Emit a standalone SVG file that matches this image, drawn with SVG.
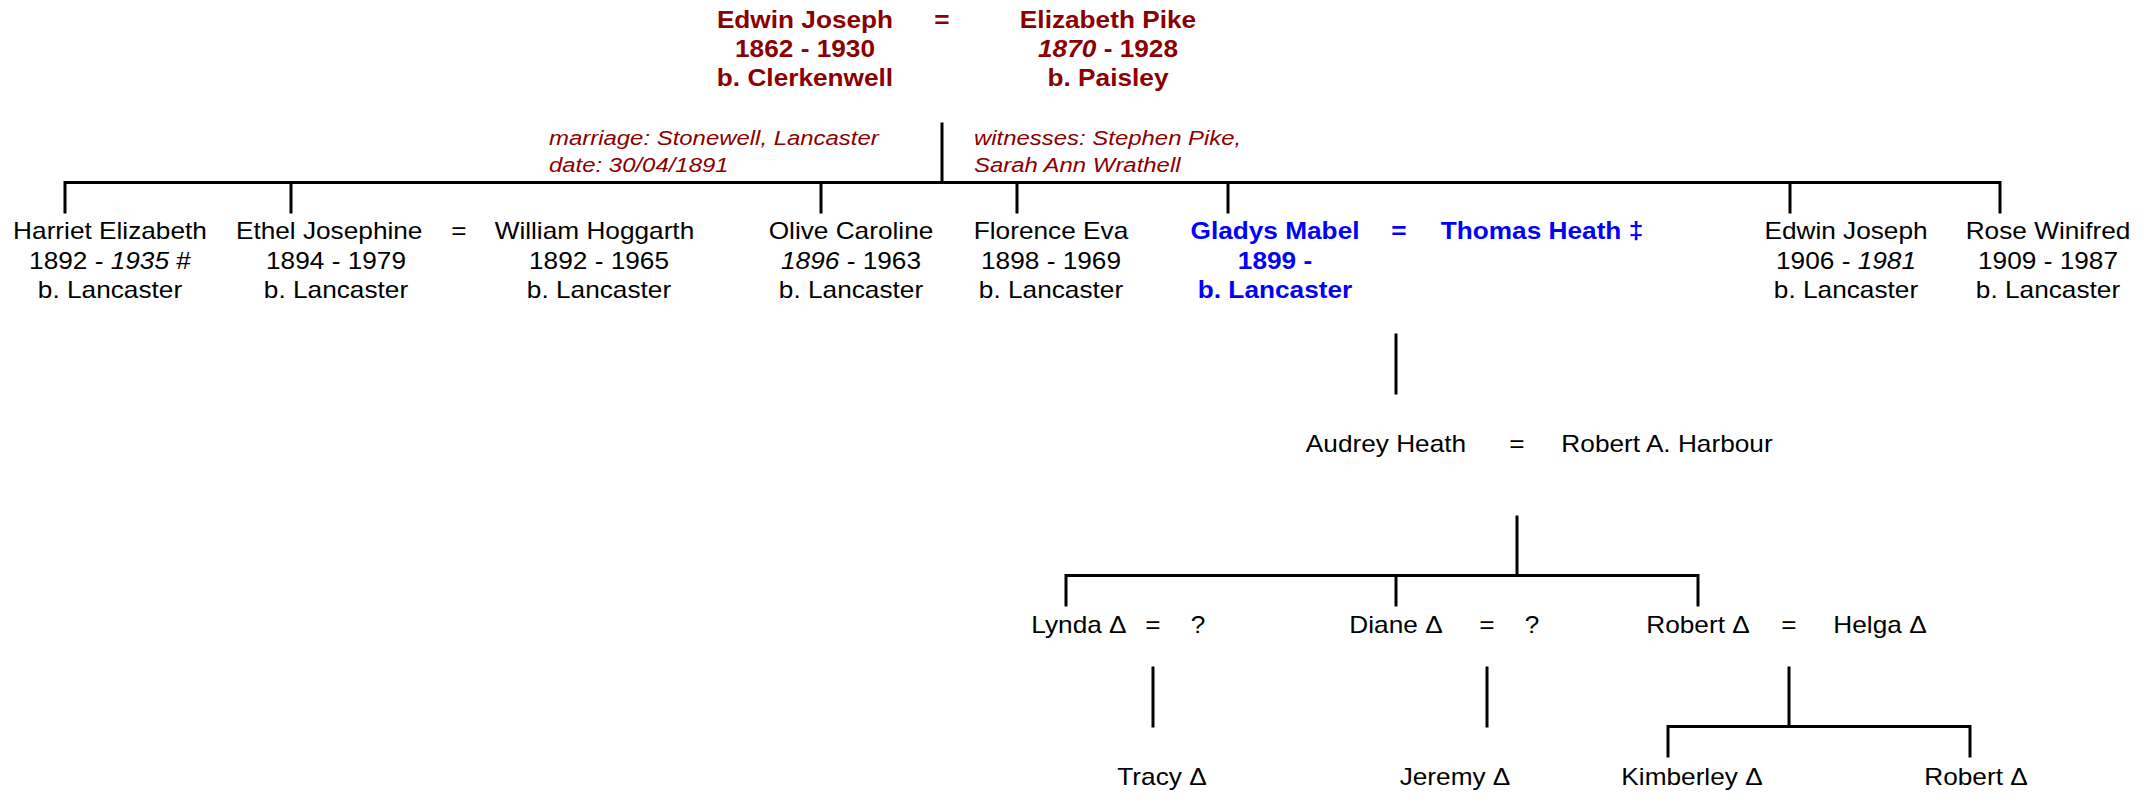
<svg xmlns="http://www.w3.org/2000/svg" width="2156" height="811" viewBox="0 0 2156 811">
<style>
text{font-family:"Liberation Sans",Arial,Helvetica,sans-serif;font-size:23px;text-anchor:middle;fill:#000}
.b{font-weight:bold}
.red{fill:#8b0000}
.blue{fill:#0000ff}
.note{font-size:21px;font-style:italic;text-anchor:start;fill:#8b0000}
.i{font-style:italic}
.ln{stroke:#000;stroke-width:3;fill:none;stroke-linecap:square}
</style>
<rect width="2156" height="811" fill="#fff"/>
<g id="connectors">
<path class="ln" d="M942 124V182"/>
<path class="ln" d="M65 212V182.5H2000V212"/>
<path class="ln" d="M291 183V212M821 183V212M1017 183V212M1228 183V212M1790 183V212"/>
<path class="ln" d="M1396 335V393"/>
<path class="ln" d="M1517 517V575"/>
<path class="ln" d="M1066 605V575.5H1698V605M1396 576V605"/>
<path class="ln" d="M1153 668V726"/>
<path class="ln" d="M1487 668V726"/>
<path class="ln" d="M1789 668V726"/>
<path class="ln" d="M1668 756V726.5H1970V756"/>
</g>
<g id="edwin-sr" transform="translate(805 0) scale(1.14 1)">
<text class="b red" y="28">Edwin Joseph</text>
<text class="b red" y="57">1862 - 1930</text>
<text class="b red" y="86">b. Clerkenwell</text>
</g>
<g id="marriage-top" transform="translate(942 0) scale(1.14 1)"><text class="b red" y="28">=</text></g>
<g id="elizabeth" transform="translate(1108 0) scale(1.14 1)">
<text class="b red" y="28">Elizabeth Pike</text>
<text class="b red" y="57"><tspan class="i">1870</tspan> - 1928</text>
<text class="b red" y="86">b. Paisley</text>
</g>
<g id="note-marriage" transform="translate(549 0) scale(1.14 1)">
<text class="note" y="145">marriage: Stonewell, Lancaster</text>
<text class="note" y="172">date: 30/04/1891</text>
</g>
<g id="note-witnesses" transform="translate(974 0) scale(1.14 1)">
<text class="note" y="145">witnesses: Stephen Pike,</text>
<text class="note" y="172">Sarah Ann Wrathell</text>
</g>
<g id="harriet" transform="translate(110 0) scale(1.14 1)">
<text y="239">Harriet Elizabeth</text>
<text y="269">1892 - <tspan class="i">1935</tspan> #</text>
<text y="298">b. Lancaster</text>
</g>
<g id="ethel" transform="translate(336 0) scale(1.14 1)">
<text x="-6" y="239">Ethel Josephine</text>
<text y="269">1894 - 1979</text>
<text y="298">b. Lancaster</text>
</g>
<g id="marriage-ethel" transform="translate(459 0) scale(1.14 1)"><text y="239">=</text></g>
<g id="william" transform="translate(599 0) scale(1.14 1)">
<text x="-4" y="239">William Hoggarth</text>
<text y="269">1892 - 1965</text>
<text y="298">b. Lancaster</text>
</g>
<g id="olive" transform="translate(851 0) scale(1.14 1)">
<text y="239">Olive Caroline</text>
<text y="269"><tspan class="i">1896</tspan> - 1963</text>
<text y="298">b. Lancaster</text>
</g>
<g id="florence" transform="translate(1051 0) scale(1.14 1)">
<text y="239">Florence Eva</text>
<text y="269">1898 - 1969</text>
<text y="298">b. Lancaster</text>
</g>
<g id="gladys" transform="translate(1275 0) scale(1.14 1)">
<text class="b blue" y="239">Gladys Mabel</text>
<text class="b blue" y="269">1899 -</text>
<text class="b blue" y="298">b. Lancaster</text>
</g>
<g id="marriage-gladys" transform="translate(1399 0) scale(1.14 1)"><text class="b blue" y="239">=</text></g>
<g id="thomas" transform="translate(1542 0) scale(1.14 1)">
<text class="b blue" y="239">Thomas Heath ‡</text>
</g>
<g id="edwin-jr" transform="translate(1846 0) scale(1.14 1)">
<text y="239">Edwin Joseph</text>
<text y="269">1906 - <tspan class="i">1981</tspan></text>
<text y="298">b. Lancaster</text>
</g>
<g id="rose" transform="translate(2048 0) scale(1.14 1)">
<text y="239">Rose Winifred</text>
<text y="269">1909 - 1987</text>
<text y="298">b. Lancaster</text>
</g>
<g id="audrey" transform="translate(1386 0) scale(1.14 1)"><text y="452">Audrey Heath</text></g>
<g id="marriage-audrey" transform="translate(1517 0) scale(1.14 1)"><text y="452">=</text></g>
<g id="robert-harbour" transform="translate(1667 0) scale(1.14 1)"><text y="452">Robert A. Harbour</text></g>
<g id="lynda" transform="translate(1079 0) scale(1.14 1)"><text y="633">Lynda Δ</text></g>
<g id="marriage-lynda" transform="translate(1153 0) scale(1.14 1)"><text y="633">=</text></g>
<g id="lynda-spouse" transform="translate(1198 0) scale(1.14 1)"><text y="633">?</text></g>
<g id="diane" transform="translate(1396 0) scale(1.14 1)"><text y="633">Diane Δ</text></g>
<g id="marriage-diane" transform="translate(1487 0) scale(1.14 1)"><text y="633">=</text></g>
<g id="diane-spouse" transform="translate(1532 0) scale(1.14 1)"><text y="633">?</text></g>
<g id="robert" transform="translate(1698 0) scale(1.14 1)"><text y="633">Robert Δ</text></g>
<g id="marriage-robert" transform="translate(1789 0) scale(1.14 1)"><text y="633">=</text></g>
<g id="helga" transform="translate(1880 0) scale(1.14 1)"><text y="633">Helga Δ</text></g>
<g id="tracy" transform="translate(1162 0) scale(1.14 1)"><text y="785">Tracy Δ</text></g>
<g id="jeremy" transform="translate(1455 0) scale(1.14 1)"><text y="785">Jeremy Δ</text></g>
<g id="kimberley" transform="translate(1692 0) scale(1.14 1)"><text y="785">Kimberley Δ</text></g>
<g id="robert-jr" transform="translate(1976 0) scale(1.14 1)"><text y="785">Robert Δ</text></g>
</svg>
